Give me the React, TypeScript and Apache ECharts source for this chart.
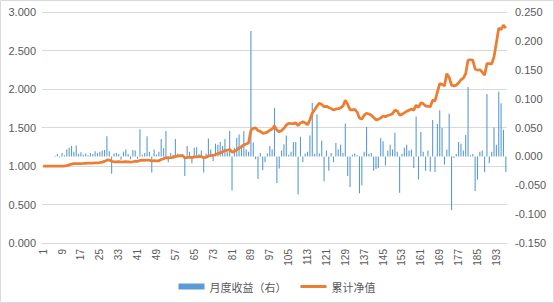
import React, { useEffect, useRef } from "react";
import * as echarts from "echarts";

const monthlyReturn: number[] = [
  0.000, 0.000, 0.000, 0.000, 0.000, 0.001, 0.004, -0.002, 0.006, 0.002,
  0.012, 0.015, 0.018, 0.008, 0.019, 0.004, 0.007, 0.003, 0.005, 0.002,
  0.006, 0.004, 0.009, 0.006, 0.008, 0.010, 0.011, 0.035, 0.009, -0.030,
  0.005, 0.006, 0.004, -0.006, 0.008, 0.012, 0.004, -0.005, 0.011, 0.010,
  -0.004, 0.047, 0.003, 0.006, 0.035, 0.008, -0.028, 0.012, 0.003, 0.008,
  0.030, 0.014, 0.044, -0.010, 0.006, 0.003, 0.030, 0.005, 0.004, 0.002,
  -0.034, 0.018, 0.008, -0.012, 0.015, 0.016, 0.004, 0.010, -0.028, 0.005,
  0.031, 0.012, -0.008, 0.022, 0.020, 0.025, 0.018, 0.030, 0.008, 0.044,
  -0.059, 0.015, 0.032, 0.038, 0.020, 0.044, 0.012, 0.008, 0.217, 0.024,
  -0.005, -0.039, 0.006, -0.024, -0.010, 0.005, 0.018, 0.012, 0.084, -0.046,
  -0.021, 0.010, 0.021, 0.036, 0.003, 0.008, 0.025, 0.025, -0.066, 0.034,
  -0.010, 0.005, 0.008, 0.036, 0.093, 0.004, 0.073, 0.005, 0.027, -0.043,
  0.010, -0.025, 0.006, -0.010, 0.023, 0.012, 0.020, 0.006, 0.057, -0.034,
  -0.053, 0.003, 0.005, 0.002, -0.064, -0.050, 0.008, 0.051, 0.004, 0.006,
  -0.025, -0.022, -0.020, 0.032, 0.026, -0.016, 0.010, 0.020, 0.012, 0.041,
  0.008, -0.063, 0.004, 0.015, 0.020, 0.010, 0.012, -0.020, 0.069, -0.040,
  0.042, 0.008, -0.025, 0.010, -0.026, 0.063, -0.027, 0.056, 0.080, 0.049,
  -0.014, 0.012, 0.074, -0.093, -0.003, 0.004, 0.025, 0.022, 0.010, 0.037,
  0.120, 0.002, 0.004, -0.060, -0.040, 0.008, 0.010, -0.027, 0.108, -0.012,
  0.008, 0.050, 0.020, 0.112, 0.092, 0.046, -0.027,
];

const netValue: number[] = [
  1.000, 1.000, 1.000, 1.000, 1.000, 1.000, 1.000, 1.000, 1.000, 1.000,
  1.005, 1.015, 1.025, 1.030, 1.030, 1.030, 1.032, 1.033, 1.035, 1.036,
  1.037, 1.038, 1.040, 1.042, 1.045, 1.050, 1.060, 1.075, 1.080, 1.060,
  1.055, 1.055, 1.058, 1.052, 1.055, 1.058, 1.055, 1.050, 1.055, 1.062,
  1.060, 1.072, 1.075, 1.072, 1.078, 1.075, 1.065, 1.070, 1.068, 1.068,
  1.085, 1.095, 1.110, 1.105, 1.108, 1.112, 1.125, 1.128, 1.130, 1.138,
  1.105, 1.110, 1.115, 1.108, 1.118, 1.120, 1.122, 1.125, 1.108, 1.112,
  1.130, 1.140, 1.135, 1.150, 1.160, 1.170, 1.185, 1.200, 1.205, 1.215,
  1.180, 1.190, 1.210, 1.235, 1.250, 1.275, 1.285, 1.300, 1.460, 1.490,
  1.495, 1.460, 1.450, 1.425, 1.430, 1.440, 1.465, 1.480, 1.520, 1.465,
  1.445, 1.460, 1.490, 1.530, 1.555, 1.550, 1.550, 1.560, 1.525, 1.560,
  1.575, 1.560, 1.535, 1.600, 1.685, 1.730, 1.780, 1.815, 1.800, 1.770,
  1.775, 1.760, 1.745, 1.728, 1.740, 1.745, 1.755, 1.780, 1.855, 1.800,
  1.730, 1.730, 1.735, 1.700, 1.620, 1.610, 1.660, 1.685, 1.675, 1.660,
  1.630, 1.600, 1.605, 1.625, 1.650, 1.640, 1.655, 1.665, 1.680, 1.725,
  1.715, 1.660, 1.670, 1.690, 1.710, 1.725, 1.740, 1.725, 1.790, 1.760,
  1.820, 1.810, 1.780, 1.775, 1.770, 1.855, 1.845, 1.960, 2.070, 2.060,
  2.040, 2.200, 2.150, 2.050, 2.040, 2.050, 2.080, 2.120, 2.140, 2.200,
  2.375, 2.380, 2.375, 2.260, 2.245, 2.250, 2.220, 2.180, 2.330, 2.330,
  2.325, 2.420, 2.600, 2.790, 2.770, 2.830, 2.790,
];

const categories: string[] = netValue.map((_, i) => String(i + 1));
const seriesNames: string[] = ["月度收益（右）", "累计净值"];

export default function App() {
  const ref = useRef<HTMLDivElement>(null);
  useEffect(() => {
    if (!ref.current) return;
    const chart = echarts.init(ref.current, null, { renderer: "svg" });
    const font = "'Liberation Sans', 'Noto Sans CJK SC', sans-serif";
    chart.setOption({
      animation: false,
      backgroundColor: "#ffffff",
      textStyle: { fontFamily: font },
      graphic: [
        {
          type: "rect",
          shape: { x: 0.5, y: 0.5, width: 553, height: 302 },
          style: { fill: "none", stroke: "#d9d9d9", lineWidth: 1 },
          silent: true,
        },
      ],
      grid: { left: 42, right: 47, top: 12, bottom: 60, containLabel: false },
      legend: {
        bottom: 6,
        left: "center",
        itemGap: 14,
        itemWidth: 26,
        itemHeight: 6,
        textStyle: { color: "#595959", fontSize: 11, fontFamily: "'Noto Sans CJK SC', sans-serif" },
        data: [
          { name: seriesNames[0], icon: "rect" },
          { name: seriesNames[1], icon: "path://M0,0L26,0L26,3L0,3Z" },
        ],
      },
      xAxis: {
        type: "category",
        data: categories,
        boundaryGap: true,
        axisLine: { show: true, lineStyle: { color: "#d9d9d9" } },
        axisTick: { show: false },
        axisLabel: {
          interval: 7,
          rotate: 90,
          color: "#595959",
          fontSize: 10,
          margin: 6,
          fontFamily: font,
        },
      },
      yAxis: [
        {
          type: "value",
          min: 0,
          max: 3,
          interval: 0.5,
          axisLine: { show: false },
          axisTick: { show: false },
          splitLine: { show: true, lineStyle: { color: "#d9d9d9" } },
          axisLabel: {
            color: "#595959",
            fontSize: 11,
            margin: 6,
            formatter: (v: number) => v.toFixed(3),
          },
        },
        {
          type: "value",
          min: -0.15,
          max: 0.25,
          interval: 0.05,
          axisLine: { show: false },
          axisTick: { show: false },
          splitLine: { show: false },
          axisLabel: {
            color: "#595959",
            fontSize: 11,
            margin: 8,
            formatter: (v: number) => (Math.abs(v) < 1e-9 ? 0 : v).toFixed(3),
          },
        },
      ],
      series: [
        {
          name: seriesNames[0],
          type: "bar",
          yAxisIndex: 1,
          data: monthlyReturn,
          barWidth: 1.1,
          itemStyle: { color: "#5B9BD5" },
          z: 1,
        },
        {
          name: seriesNames[1],
          type: "line",
          yAxisIndex: 0,
          data: netValue,
          symbol: "none",
          lineStyle: { color: "#ED7D31", width: 2.75 },
          itemStyle: { color: "#ED7D31" },
          z: 3,
        },
      ],
    });
    return () => chart.dispose();
  }, []);
  return (
    <div
      ref={ref}
      style={{ position: "fixed", left: 0, top: 0, width: 554, height: 303 }}
    />
  );
}
